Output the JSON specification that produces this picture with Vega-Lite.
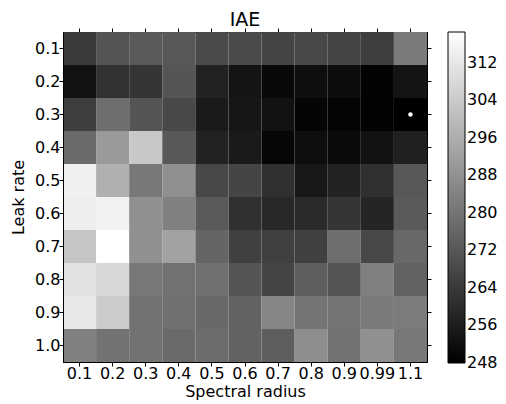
{
  "$schema": "https://vega.github.io/schema/vega-lite/v6.json",
  "autosize": {"type": "none"},
  "padding": {"left": 63, "top": 32, "right": 79, "bottom": 42},
  "width": 364,
  "height": 330,
  "title": {"text": "IAE", "fontSize": 19, "fontWeight": "normal", "font": "DejaVu Sans", "color": "#000", "anchor": "middle", "offset": -2},
  "config": {
    "font": "DejaVu Sans",
    "view": {"stroke": "#000", "strokeWidth": 1},
    "axis": {"domainColor": "#000", "tickColor": "#000", "labelColor": "#000", "titleColor": "#000", "labelFont": "DejaVu Sans", "titleFont": "DejaVu Sans", "labelFontSize": 16, "titleFontSize": 16, "titleFontWeight": "normal", "grid": false, "tickSize": 4, "labelAngle": 0},
    "legend": {"labelFont": "DejaVu Sans", "labelFontSize": 16, "labelColor": "#000"}
  },
  "datasets": {
    "cells": [
      {"sr": "0.1", "lr": "0.1", "iae": 264.0}, {"sr": "0.2", "lr": "0.1", "iae": 271.5}, {"sr": "0.3", "lr": "0.1", "iae": 272.9}, {"sr": "0.4", "lr": "0.1", "iae": 272.3}, {"sr": "0.5", "lr": "0.1", "iae": 268.5}, {"sr": "0.6", "lr": "0.1", "iae": 268.5}, {"sr": "0.7", "lr": "0.1", "iae": 267.1}, {"sr": "0.8", "lr": "0.1", "iae": 267.9}, {"sr": "0.9", "lr": "0.1", "iae": 267.1}, {"sr": "0.99", "lr": "0.1", "iae": 265.1}, {"sr": "1.1", "lr": "0.1", "iae": 281.7},
      {"sr": "0.1", "lr": "0.2", "iae": 253.0}, {"sr": "0.2", "lr": "0.2", "iae": 261.8}, {"sr": "0.3", "lr": "0.2", "iae": 262.7}, {"sr": "0.4", "lr": "0.2", "iae": 271.5}, {"sr": "0.5", "lr": "0.2", "iae": 257.4}, {"sr": "0.6", "lr": "0.2", "iae": 253.5}, {"sr": "0.7", "lr": "0.2", "iae": 250.2}, {"sr": "0.8", "lr": "0.2", "iae": 251.9}, {"sr": "0.9", "lr": "0.2", "iae": 251.3}, {"sr": "0.99", "lr": "0.2", "iae": 248.6}, {"sr": "1.1", "lr": "0.2", "iae": 253.5},
      {"sr": "0.1", "lr": "0.3", "iae": 265.1}, {"sr": "0.2", "lr": "0.3", "iae": 278.4}, {"sr": "0.3", "lr": "0.3", "iae": 271.5}, {"sr": "0.4", "lr": "0.3", "iae": 267.9}, {"sr": "0.5", "lr": "0.3", "iae": 255.2}, {"sr": "0.6", "lr": "0.3", "iae": 254.1}, {"sr": "0.7", "lr": "0.3", "iae": 253.0}, {"sr": "0.8", "lr": "0.3", "iae": 249.4}, {"sr": "0.9", "lr": "0.3", "iae": 249.1}, {"sr": "0.99", "lr": "0.3", "iae": 248.6}, {"sr": "1.1", "lr": "0.3", "iae": 248.0},
      {"sr": "0.1", "lr": "0.4", "iae": 277.3}, {"sr": "0.2", "lr": "0.4", "iae": 290.6}, {"sr": "0.3", "lr": "0.4", "iae": 303.3}, {"sr": "0.4", "lr": "0.4", "iae": 272.3}, {"sr": "0.5", "lr": "0.4", "iae": 257.4}, {"sr": "0.6", "lr": "0.4", "iae": 255.2}, {"sr": "0.7", "lr": "0.4", "iae": 249.7}, {"sr": "0.8", "lr": "0.4", "iae": 251.9}, {"sr": "0.9", "lr": "0.4", "iae": 250.8}, {"sr": "0.99", "lr": "0.4", "iae": 253.0}, {"sr": "1.1", "lr": "0.4", "iae": 256.8},
      {"sr": "0.1", "lr": "0.5", "iae": 314.4}, {"sr": "0.2", "lr": "0.5", "iae": 296.7}, {"sr": "0.3", "lr": "0.5", "iae": 281.2}, {"sr": "0.4", "lr": "0.5", "iae": 287.8}, {"sr": "0.5", "lr": "0.5", "iae": 267.9}, {"sr": "0.6", "lr": "0.5", "iae": 267.1}, {"sr": "0.7", "lr": "0.5", "iae": 261.3}, {"sr": "0.8", "lr": "0.5", "iae": 254.6}, {"sr": "0.9", "lr": "0.5", "iae": 257.4}, {"sr": "0.99", "lr": "0.5", "iae": 261.3}, {"sr": "1.1", "lr": "0.5", "iae": 272.3},
      {"sr": "0.1", "lr": "0.6", "iae": 313.8}, {"sr": "0.2", "lr": "0.6", "iae": 314.9}, {"sr": "0.3", "lr": "0.6", "iae": 287.8}, {"sr": "0.4", "lr": "0.6", "iae": 283.4}, {"sr": "0.5", "lr": "0.6", "iae": 272.9}, {"sr": "0.6", "lr": "0.6", "iae": 261.3}, {"sr": "0.7", "lr": "0.6", "iae": 259.1}, {"sr": "0.8", "lr": "0.6", "iae": 259.6}, {"sr": "0.9", "lr": "0.6", "iae": 262.7}, {"sr": "0.99", "lr": "0.6", "iae": 258.2}, {"sr": "1.1", "lr": "0.6", "iae": 272.9},
      {"sr": "0.1", "lr": "0.7", "iae": 302.5}, {"sr": "0.2", "lr": "0.7", "iae": 318.5}, {"sr": "0.3", "lr": "0.7", "iae": 287.8}, {"sr": "0.4", "lr": "0.7", "iae": 292.8}, {"sr": "0.5", "lr": "0.7", "iae": 275.9}, {"sr": "0.6", "lr": "0.7", "iae": 265.7}, {"sr": "0.7", "lr": "0.7", "iae": 265.7}, {"sr": "0.8", "lr": "0.7", "iae": 265.7}, {"sr": "0.9", "lr": "0.7", "iae": 278.4}, {"sr": "0.99", "lr": "0.7", "iae": 267.9}, {"sr": "1.1", "lr": "0.7", "iae": 276.8},
      {"sr": "0.1", "lr": "0.8", "iae": 310.5}, {"sr": "0.2", "lr": "0.8", "iae": 307.7}, {"sr": "0.3", "lr": "0.8", "iae": 281.2}, {"sr": "0.4", "lr": "0.8", "iae": 279.5}, {"sr": "0.5", "lr": "0.8", "iae": 279.0}, {"sr": "0.6", "lr": "0.8", "iae": 271.5}, {"sr": "0.7", "lr": "0.8", "iae": 267.1}, {"sr": "0.8", "lr": "0.8", "iae": 274.0}, {"sr": "0.9", "lr": "0.8", "iae": 271.5}, {"sr": "0.99", "lr": "0.8", "iae": 283.4}, {"sr": "1.1", "lr": "0.8", "iae": 275.1},
      {"sr": "0.1", "lr": "0.9", "iae": 312.1}, {"sr": "0.2", "lr": "0.9", "iae": 304.4}, {"sr": "0.3", "lr": "0.9", "iae": 279.5}, {"sr": "0.4", "lr": "0.9", "iae": 279.0}, {"sr": "0.5", "lr": "0.9", "iae": 276.8}, {"sr": "0.6", "lr": "0.9", "iae": 275.1}, {"sr": "0.7", "lr": "0.9", "iae": 284.8}, {"sr": "0.8", "lr": "0.9", "iae": 280.3}, {"sr": "0.9", "lr": "0.9", "iae": 280.3}, {"sr": "0.99", "lr": "0.9", "iae": 281.7}, {"sr": "1.1", "lr": "0.9", "iae": 282.3},
      {"sr": "0.1", "lr": "1.0", "iae": 283.4}, {"sr": "0.2", "lr": "1.0", "iae": 279.5}, {"sr": "0.3", "lr": "1.0", "iae": 279.5}, {"sr": "0.4", "lr": "1.0", "iae": 277.3}, {"sr": "0.5", "lr": "1.0", "iae": 277.9}, {"sr": "0.6", "lr": "1.0", "iae": 275.1}, {"sr": "0.7", "lr": "1.0", "iae": 274.0}, {"sr": "0.8", "lr": "1.0", "iae": 287.3}, {"sr": "0.9", "lr": "1.0", "iae": 279.5}, {"sr": "0.99", "lr": "1.0", "iae": 287.8}, {"sr": "1.1", "lr": "1.0", "iae": 281.2}
    ],
    "best": [{"sr": "1.1", "lr": "0.3"}]
  },
  "layer": [
    {
      "data": {"name": "cells"},
      "mark": {"type": "rect"},
      "encoding": {
        "x": {"field": "sr", "type": "ordinal", "scale": {"domain": ["0.1","0.2","0.3","0.4","0.5","0.6","0.7","0.8","0.9","0.99","1.1"], "paddingInner": 0, "paddingOuter": 0}, "axis": {"orient": "bottom", "title": "Spectral radius", "labelPadding": -1, "titlePadding": 2, "encode": {"ticks": {"update": {"y2": {"value": -4}}}}}},
        "y": {"field": "lr", "type": "ordinal", "scale": {"domain": ["0.1","0.2","0.3","0.4","0.5","0.6","0.7","0.8","0.9","1.0"], "paddingInner": 0, "paddingOuter": 0}, "axis": {"orient": "left", "title": "Leak rate", "labelPadding": -1, "titlePadding": 8, "encode": {"ticks": {"update": {"x2": {"value": 4}}}}}},
        "color": {"field": "iae", "type": "quantitative", "scale": {"type": "linear", "domain": [248, 318.5], "range": ["#000000", "#ffffff"], "interpolate": "rgb"}, "legend": {"title": null, "orient": "right", "offset": 16, "padding": 0, "gradientLength": 331, "gradientThickness": 17, "gradientStrokeColor": "#000", "gradientStrokeWidth": 1, "values": [248,256,264,272,280,288,296,304,312], "labelOffset": 2, "encode": {"labels": {"update": {"baseline": {"value": "middle"}}}}}}
      }
    },
    {
      "data": {"name": "best"},
      "mark": {"type": "point", "filled": true, "color": "#ffffff", "size": 20, "opacity": 1},
      "encoding": {
        "x": {"field": "sr", "type": "ordinal", "axis": {"orient": "top", "labels": false, "title": null, "encode": {"ticks": {"update": {"y2": {"value": 4}}}}}},
        "y": {"field": "lr", "type": "ordinal", "axis": {"orient": "right", "labels": false, "title": null, "encode": {"ticks": {"update": {"x2": {"value": -4}}}}}}
      }
    }
  ],
  "resolve": {"axis": {"x": "independent", "y": "independent"}}
}
